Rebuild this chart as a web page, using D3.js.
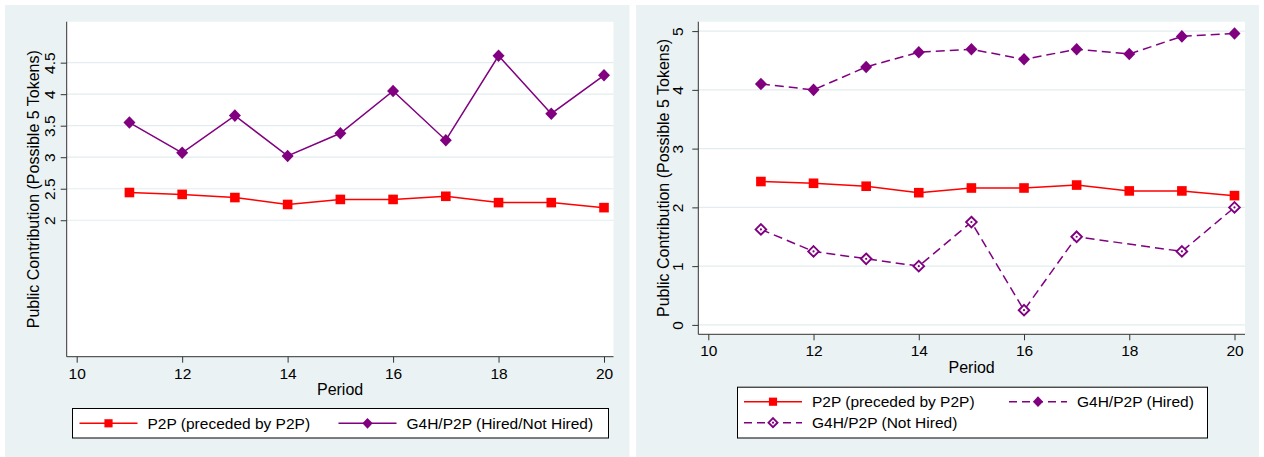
<!DOCTYPE html>
<html><head><meta charset="utf-8">
<script src="https://cdn.jsdelivr.net/npm/d3@7"></script>
<style>
body{margin:0;background:#fff}
svg{display:block}
text{font-family:"Liberation Sans",Arial,sans-serif;fill:#000}
</style>
</head><body><svg id="c" width="1264" height="457"></svg>
<script>
// ---- data ----
const periods = [11,12,13,14,15,16,17,18,19,20];
const p2p = [2.44,2.41,2.36,2.25,2.33,2.33,2.38,2.28,2.28,2.20];
const g4hPooled = [3.55,3.07,3.66,3.02,3.38,4.05,3.27,4.61,3.69,4.30];
const g4hHired = [4.10,4.00,4.39,4.64,4.69,4.52,4.69,4.61,4.91,4.96];
const g4hNotHired = [1.625,1.25,1.125,1.0,1.75,0.25,1.5,null,1.25,2.0];
const xTicks = [10,12,14,16,18,20];
const yTicksLeft = [2,2.5,3,3.5,4,4.5];
const yTicksRight = [0,1,2,3,4,5];
const labelsLeft = ["P2P (preceded by P2P)","G4H/P2P (Hired/Not Hired)"];
const labelsRight = ["P2P (preceded by P2P)","G4H/P2P (Hired)","G4H/P2P (Not Hired)"];
const xTitle = "Period";
const yTitle = "Public Contribution (Possible 5 Tokens)";

// ---- styles ----
const RED = "#ff0000", PURPLE = "#800080";
const BG = "#eaf2f3", GRID = "#e3ecee", AXIS = "#333";
const styles = {
  p2p:      {color: RED, dash: null, marker: "square"},
  pooled:   {color: PURPLE, dash: null, marker: "diamond"},
  hired:    {color: PURPLE, dash: "9,5", marker: "diamond"},
  notHired: {color: PURPLE, dash: "9,5", marker: "hollowDiamond"}
};

const svg = d3.select("#c");

function drawMarker(g, type, color, x, y, scale) {
  const s = scale || 1;
  if (type === "square") {
    const h = 4.8 * s;
    g.append("rect").attr("x", x - h).attr("y", y - h).attr("width", 2*h).attr("height", 2*h).attr("fill", color);
  } else if (type === "diamond") {
    const rx = 6.0 * s, ry = 6.3 * s;
    g.append("path").attr("d", `M${x},${y-ry}L${x+rx},${y}L${x},${y+ry}L${x-rx},${y}Z`).attr("fill", color);
  } else {
    const r = 5.3 * s;
    g.append("path").attr("d", `M${x},${y-r}L${x+r},${y}L${x},${y+r}L${x-r},${y}Z`)
      .attr("fill", "#fff").attr("stroke", color).attr("stroke-width", 1.9);
    g.append("circle").attr("cx", x).attr("cy", y).attr("r", 1.1).attr("fill", color);
  }
}

function panel(cfg) {
  const g = svg.append("g");
  g.append("rect").attr("x", cfg.bg[0]).attr("y", cfg.bg[1]).attr("width", cfg.bg[2]-cfg.bg[0]).attr("height", cfg.bg[3]-cfg.bg[1]).attr("fill", BG);
  const p = cfg.plot;
  g.append("rect").attr("x", p.x0).attr("y", p.y0).attr("width", p.x1-p.x0).attr("height", p.y1-p.y0).attr("fill", "#fff");

  const x = d3.scaleLinear().domain([10,20]).range(cfg.xr);
  const y = d3.scaleLinear().domain(cfg.yd).range([p.y1, p.y0]);

  // grid
  g.append("g").selectAll("line").data(cfg.yTicks).join("line")
    .attr("x1", p.x0).attr("x2", p.x1).attr("y1", d => y(d)).attr("y2", d => y(d))
    .attr("stroke", GRID).attr("stroke-width", 1.2);

  // y axis
  const ya = g.append("g").attr("transform", `translate(${p.x0},0)`)
    .call(d3.axisLeft(y).tickValues(cfg.yTicks).tickSize(6).tickSizeOuter(0).tickFormat(d => String(d)));
  ya.select(".domain").remove();
  ya.append("line").attr("x1", 0).attr("x2", 0).attr("y1", p.y0).attr("y2", p.y1).attr("stroke", AXIS).attr("stroke-width", 1);
  ya.selectAll(".tick line").attr("stroke", AXIS);
  ya.selectAll(".tick text").attr("transform", "rotate(-90)").attr("x", 0).attr("y", -cfg.yLabOff).attr("dy", 0)
    .attr("text-anchor", "middle").style("font-size", "15.5px").attr("font-family", null).attr("fill", "#000");

  // x axis
  const xa = g.append("g").attr("transform", `translate(0,${p.y1})`)
    .call(d3.axisBottom(x).tickValues(xTicks).tickSize(6).tickSizeOuter(0).tickFormat(d => String(d)));
  xa.select(".domain").remove();
  xa.append("line").attr("x1", p.x0).attr("x2", p.x1).attr("y1", 0).attr("y2", 0).attr("stroke", AXIS).attr("stroke-width", 1);
  xa.selectAll(".tick line").attr("stroke", AXIS);
  xa.selectAll(".tick text").attr("y", cfg.xLabOff).attr("dy", 0).style("font-size", "15.5px").attr("font-family", null).attr("fill", "#000");

  // titles
  g.append("text").attr("transform", `translate(${cfg.yTitleX},${(p.y0+p.y1)/2}) rotate(-90)`)
    .attr("text-anchor", "middle").style("font-size", "16px").text(yTitle);
  g.append("text").attr("x", (p.x0+p.x1)/2).attr("y", p.y1 + cfg.xTitleOff)
    .attr("text-anchor", "middle").style("font-size", "16px").text(xTitle);

  // series
  cfg.series.forEach(s => {
    const st = styles[s.style];
    const pts = periods.map((t, i) => ({t, v: s.values[i]})).filter(d => d.v != null);
    const line = d3.line().x(d => x(d.t)).y(d => y(d.v));
    g.append("path").attr("d", line(pts)).attr("fill", "none").attr("stroke", st.color)
      .attr("stroke-width", 1.5).attr("stroke-dasharray", st.dash);
    const mg = g.append("g");
    pts.forEach(d => drawMarker(mg, st.marker, st.color, x(d.t), y(d.v)));
  });

  // legend
  const L = cfg.legend;
  g.append("rect").attr("x", L.box[0]+0.5).attr("y", L.box[1]+0.5).attr("width", L.box[2]-L.box[0]).attr("height", L.box[3]-L.box[1])
    .attr("fill", "#fff").attr("stroke", "#000").attr("stroke-width", 1);
  cfg.series.forEach((s, i) => {
    const st = styles[s.style];
    const it = L.items[i];
    g.append("line").attr("x1", it.x).attr("x2", it.x + 58).attr("y1", it.y).attr("y2", it.y)
      .attr("stroke", st.color).attr("stroke-width", 1.5).attr("stroke-dasharray", st.dash ? "8,5" : null);
    drawMarker(g, st.marker, st.color, it.x + 29, it.y, 0.85);
    g.append("text").attr("x", it.x + 68).attr("y", it.y + 5.5).style("font-size", "15.5px").text(s.label);
  });
}

panel({
  bg: [5, 5, 629.5, 457],
  plot: {x0: 66.7, x1: 613.5, y0: 21.7, y1: 356.7},
  xr: [76.7, 604],
  yd: [-0.165, 5.15],
  yTicks: yTicksLeft,
  yLabOff: 11.7, xLabOff: 22.6, yTitleX: 39, xTitleOff: 38,
  series: [
    {values: p2p, style: "p2p", label: labelsLeft[0]},
    {values: g4hPooled, style: "pooled", label: labelsLeft[1]}
  ],
  legend: {box: [72, 408, 608, 437.5], items: [{x: 79.5, y: 423.3}, {x: 338.5, y: 423.3}]}
});

panel({
  bg: [636, 5, 1259, 457],
  plot: {x0: 698.3, x1: 1245, y0: 21.7, y1: 334.3},
  xr: [708.3, 1234.5],
  yd: [-0.16, 5.16],
  yTicks: yTicksRight,
  yLabOff: 15, xLabOff: 21.5, yTitleX: 668.5, xTitleOff: 38.7,
  series: [
    {values: p2p, style: "p2p", label: labelsRight[0]},
    {values: g4hHired, style: "hired", label: labelsRight[1]},
    {values: g4hNotHired, style: "notHired", label: labelsRight[2]}
  ],
  legend: {box: [737, 386.7, 1207, 437.5], items: [{x: 744, y: 401.7}, {x: 1009, y: 401.7}, {x: 744, y: 422.7}]}
});
</script>
</body></html>
